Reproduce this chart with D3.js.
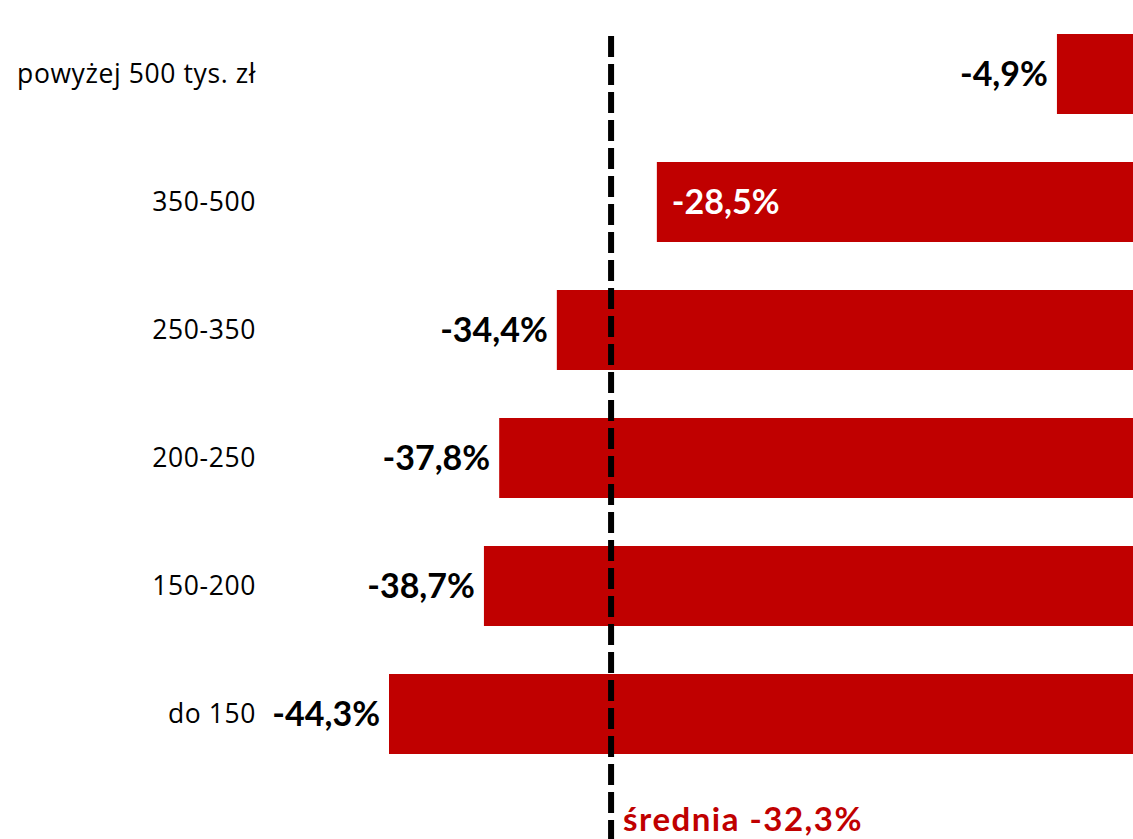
<!DOCTYPE html>
<html>
<head>
<meta charset="utf-8">
<script src="https://cdn.jsdelivr.net/npm/d3@7"></script>
<style>
  html, body { margin: 0; padding: 0; background: #fff; }
  svg { display: block; }
</style>
</head>
<body>
<svg id="chart" width="1133" height="839"></svg>
<script>
// ---- data ----
const categories = ["powyżej 500 tys. zł", "350-500", "250-350", "200-250", "150-200", "do 150"];
const values = [-4.9, -28.5, -34.4, -37.8, -38.7, -44.3];
const valueLabels = ["-4,9%", "-28,5%", "-34,4%", "-37,8%", "-38,7%", "-44,3%"];
const insideLabel = [false, true, false, false, false, false];
const averageValue = [-32.3];
const averageLabel = ["średnia -32,3%"];
const averageLinePosition = [-31.2]; // where the dashed line sits in the picture

// ---- layout ----
const W = 1133, H = 839;
const svg = d3.select("#chart");
const font = "Lato, 'Open Sans', sans-serif";
const catFont = "'Open Sans', Lato, sans-serif";
const red = "#c00000";

const x = d3.scaleLinear().domain([-44.3, 0]).range([389, 1140]);
const y = d3.scaleBand().domain(categories).range([34, 754]).paddingInner(0.375).paddingOuter(0);

// bars
svg.append("g").selectAll("rect")
  .data(values)
  .join("rect")
  .attr("x", d => x(d))
  .attr("y", (d, i) => y(categories[i]))
  .attr("width", d => x(0) - x(d))
  .attr("height", y.bandwidth())
  .attr("fill", red);

// category labels
svg.append("g").selectAll("text")
  .data(categories)
  .join("text")
  .attr("x", 256)
  .attr("y", d => y(d) + y.bandwidth() / 2 + 9)
  .attr("text-anchor", "end")
  .attr("font-family", catFont)
  .attr("font-size", 26.5)
  .attr("letter-spacing", 0.6)
  .attr("fill", "#000")
  .text(d => d);

// value labels
svg.append("g").selectAll("text")
  .data(values)
  .join("text")
  .attr("x", (d, i) => insideLabel[i] ? x(d) + 15 : x(d) - 9)
  .attr("y", (d, i) => y(categories[i]) + y.bandwidth() / 2 + 12)
  .attr("text-anchor", (d, i) => insideLabel[i] ? "start" : "end")
  .attr("font-family", font)
  .attr("font-weight", "bold")
  .attr("font-size", 34)
  .attr("fill", (d, i) => insideLabel[i] ? "#fff" : "#000")
  .text((d, i) => valueLabels[i]);

// average dashed line
svg.append("g").selectAll("line")
  .data(averageLinePosition)
  .join("line")
  .attr("x1", d => x(d))
  .attr("x2", d => x(d))
  .attr("y1", 36)
  .attr("y2", H)
  .attr("stroke", "#000")
  .attr("stroke-width", 6)
  .attr("stroke-dasharray", "21 7");

// average label
svg.append("g").selectAll("text")
  .data(averageValue)
  .join("text")
  .attr("x", x(averageLinePosition[0]) + 12)
  .attr("y", 831)
  .attr("font-family", font)
  .attr("font-weight", "bold")
  .attr("font-size", 33)
  .attr("letter-spacing", 1.5)
  .attr("fill", red)
  .text((d, i) => averageLabel[i]);
</script>
</body>
</html>
